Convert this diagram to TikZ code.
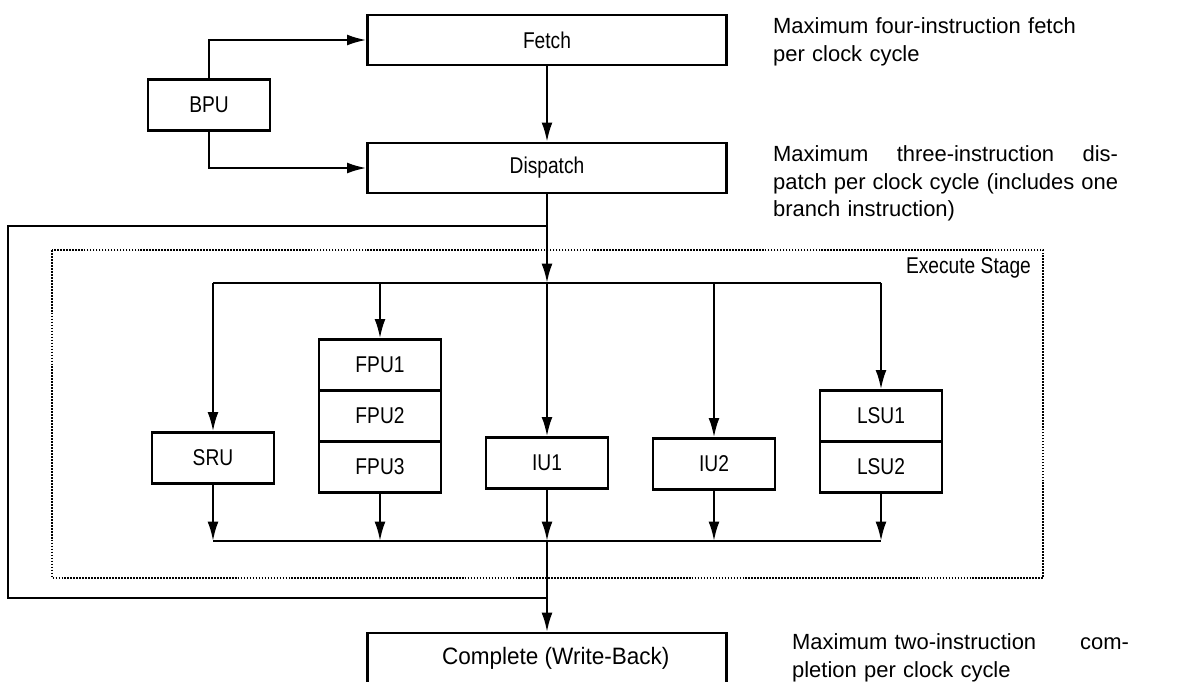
\documentclass[tikz,border=0pt]{standalone}
\usepackage{fontspec}
\setmainfont{Liberation Sans}
\newfontfamily\narrowfont[FakeStretch=0.84]{Liberation Sans}
\newfontfamily\wbfont[FakeStretch=0.95]{Liberation Sans}
\newcommand{\unitfont}{\narrowfont\fontsize{13}{15}\selectfont}
\usetikzlibrary{arrows.meta}

\begin{document}
\begin{tikzpicture}[x=0.02cm,y=-0.02cm,line width=1.3pt,
		unit/.style={draw,minimum width=2.44cm,minimum height=1.02cm,inner sep=0pt,font=\unitfont},
		stage/.style={unit,minimum width=7.18cm,minimum height=1cm},
		flow/.style={-{Latex[length=11pt,width=6.2pt]}},
		note/.style={anchor=north west,inner sep=0pt,text width=#1,font=\fontsize{12.5}{15.9}\selectfont}]
		\useasboundingbox (0,0) rectangle (1177,681);
		\draw[line width=1.6pt,dash pattern=on 1pt off 0.7pt] (52,250) rectangle (1043,578);% Execute stage frame
		\node[anchor=base east,inner sep=0pt,font=\unitfont] (ExecLabel) at (1032,273) {Execute Stage};

		\node[stage] (Fetch)    at (547,40)  {Fetch};
		\node[stage] (Dispatch) at (547,168) {Dispatch};
		\node[unit]  (BPU)      at (209,105) {BPU};
		\node[unit]  (SRU)      at (213,458) {SRU};
		\node[unit]  (FPUa)     at (380,365) {FPU1};
		\node[unit]  (FPUb)     at (380,416) {FPU2};
		\node[unit]  (FPUc)     at (380,467) {FPU3};
		\node[unit]  (IUa)      at (547,463) {IU1};
		\node[unit]  (IUb)      at (714,464) {IU2};
		\node[unit]  (LSUa)     at (881,416) {LSU1};
		\node[unit]  (LSUb)     at (881,467) {LSU2};
		\node[stage,anchor=north,minimum height=0pt,text height=0.62cm,text depth=1cm,
			font=\wbfont\fontsize{13.5}{16}\selectfont] (Complete) at (547,632) {\hspace{0.35cm}Complete (Write-Back)};% box runs off the page

		\coordinate (SplitTop) at (547,283);
		\coordinate (SplitW)   at (213,283);
		\coordinate (SplitE)   at (881,283);
		\coordinate (JoinBot)  at (547,541);
		\coordinate (JoinW)    at (213,541);
		\coordinate (JoinE)    at (881,541);
		\coordinate (LoopTop)  at (547,226);
		\coordinate (LoopBot)  at (547,598);
		\coordinate (LoopNW)   at (8,226);

		\draw[flow] (BPU.north) |- (Fetch.west);
		\draw[flow] (BPU.south) |- (Dispatch.west);
		\draw[flow] (Fetch) -- (Dispatch);
		\draw[flow] (Dispatch) -- (SplitTop);% Issue to the execution units
		\draw (SplitW) -- (SplitE);
		\draw[flow] (SplitW) -- (SRU);
		\draw[flow] (SplitTop -| FPUa) -- (FPUa);
		\draw[flow] (SplitTop) -- (IUa);
		\draw[flow] (SplitTop -| IUb) -- (IUb);
		\draw[flow] (SplitE) -- (LSUa);

		\draw[flow] (SRU) -- (JoinW);% Results back to completion
		\draw[flow] (FPUc) -- (FPUc |- JoinBot);
		\draw[flow] (IUa) -- (JoinBot);
		\draw[flow] (IUb) -- (IUb |- JoinBot);
		\draw[flow] (LSUb) -- (JoinE);
		\draw (JoinW) -- (JoinE);
		\draw[flow] (JoinBot) -- (Complete.north);
		\draw (LoopTop) -- (LoopNW) |- (LoopBot);% Bypass round the execute stage

		\node[note=6.9cm] (FetchNote) at (772,16) {Maximum four-instruction fetch\\per clock cycle};
		\node[note=6.9cm] (DispatchNote) at (772,144) {\makebox[6.9cm]{Maximum\hfill three-instruction\hfill dis-}\\
			\makebox[6.9cm]{patch\hfill per\hfill clock\hfill cycle\hfill (includes\hfill one}\\branch instruction)};
		\node[note=6.74cm] (CompleteNote) at (791,632) {\makebox[6.74cm]{Maximum two-instruction\hfill com-}\\pletion per clock cycle};
	\end{tikzpicture}
\end{document}
